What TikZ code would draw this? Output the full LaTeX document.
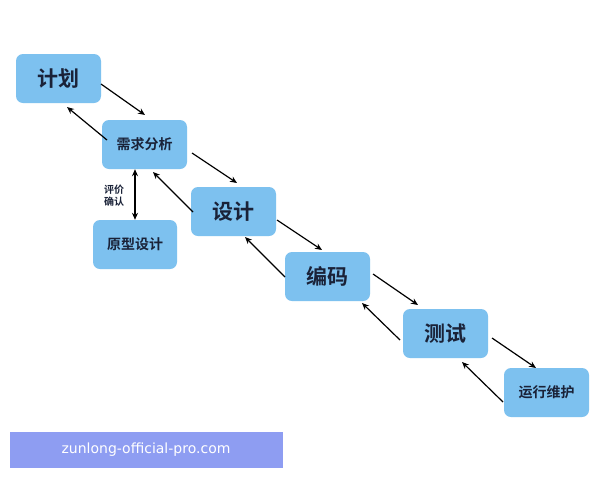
\documentclass[tikz,border=0pt]{standalone}
\usepackage{fontspec}
\newfontfamily\cjk{Noto Sans CJK SC}
\newfontfamily\cjkb{Noto Sans CJK SC Bold}
\setsansfont{DejaVu Sans}
\usetikzlibrary{arrows.meta}
\definecolor{boxc}{HTML}{7DC1EF}
\definecolor{txt}{HTML}{1A2238}
\definecolor{wm}{HTML}{8E9DF2}
\begin{document}
\begin{tikzpicture}[x=1pt,y=-1pt,
  box/.style={fill=boxc,rounded corners=7pt,text=txt,inner sep=0pt},
  big/.style={font=\cjkb\fontsize{21}{21}\selectfont},
  small/.style={font=\cjkb\fontsize{14}{14}\selectfont},
  arr/.style={-{Stealth[length=7pt,width=6pt]},line width=1.2pt,black}]
\useasboundingbox (0,0) rectangle (600,480);
\fill[white] (0,0) rectangle (600,480);
\node[box,big,minimum width=85pt,minimum height=49pt] (jh) at (58.5,78.5) {计划};
\node[box,small,minimum width=85pt,minimum height=49pt] (xq) at (144.5,144.5) {需求分析};
\node[box,small,minimum width=84pt,minimum height=49pt] (yx) at (135,244.5) {原型设计};
\node[box,big,minimum width=85pt,minimum height=49pt] (sj) at (233.5,211.5) {设计};
\node[box,big,minimum width=85pt,minimum height=49pt] (bm) at (327.5,276.5) {编码};
\node[box,big,minimum width=85pt,minimum height=49pt] (cs) at (445.5,333.5) {测试};
\node[box,small,minimum width=85pt,minimum height=49pt] (yw) at (546.5,392.5) {运行维护};
\coordinate (a1) at (101,84); \coordinate (a2) at (145,115);
\draw[arr] (a1) -- (a2);
\coordinate (b1) at (107,140); \coordinate (b2) at (67,107);
\draw[arr] (b1) -- (b2);
\coordinate (c1) at (192,153); \coordinate (c2) at (237,183);
\draw[arr] (c1) -- (c2);
\coordinate (d1) at (193,212); \coordinate (d2) at (153,172);
\draw[arr] (d1) -- (d2);
\coordinate (e1) at (277,220); \coordinate (e2) at (322,250);
\draw[arr] (e1) -- (e2);
\coordinate (f1) at (285,277); \coordinate (f2) at (245,237);
\draw[arr] (f1) -- (f2);
\coordinate (g1) at (373,274); \coordinate (g2) at (418,305);
\draw[arr] (g1) -- (g2);
\coordinate (h1) at (400,340); \coordinate (h2) at (362,303);
\draw[arr] (h1) -- (h2);
\coordinate (i1) at (492,338); \coordinate (i2) at (536,368);
\draw[arr] (i1) -- (i2);
\coordinate (j1) at (503,402); \coordinate (j2) at (462,362);
\draw[arr] (j1) -- (j2);
\draw[{Stealth[length=7pt,width=6pt]}-{Stealth[length=7pt,width=6pt]},line width=1.2pt] (xq.south -| 135,0) -- (yx.north -| 135,0);
\node[font=\cjkb\fontsize{10}{12}\selectfont,text=txt,align=center] (lbl) at (114,196) {评价\\确认};
\fill[wm] (10,432) rectangle (283,468);
\node[text=white,font=\fontsize{14}{14}\selectfont\sffamily] (w) at (146,450) {zunlong-official-pro.com};
\end{tikzpicture}
\end{document}
